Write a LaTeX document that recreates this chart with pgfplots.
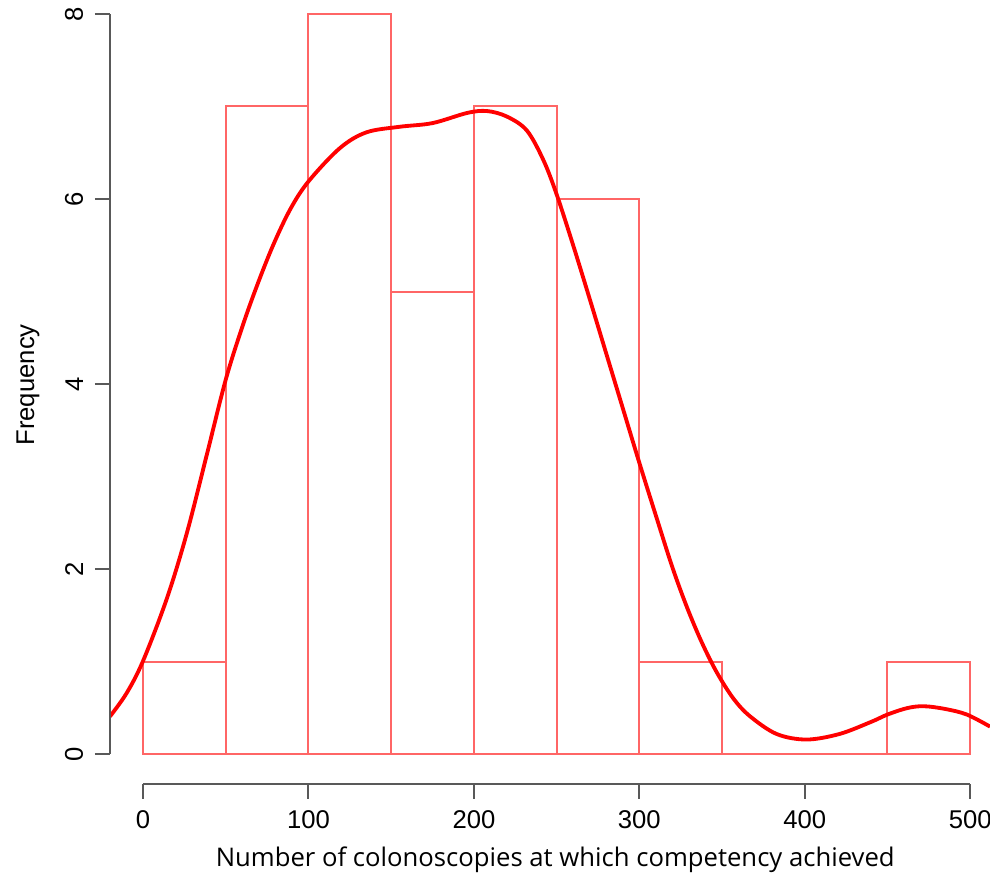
\documentclass[border=0pt]{standalone}
\usepackage{fontspec}
\setmainfont{Liberation Sans}
\newfontfamily\labelfont{Open Sans}
\usepackage{pgfplots}
\pgfplotsset{compat=1.18}

% counts per 50-wide bin, last row repeats the final count for ybar interval
\pgfplotstableread{
x   n
0   1
50  7
100 8
150 5
200 7
250 6
300 1
350 0
400 0
450 1
500 1
}\bins

% density curve, scaled to counts
\pgfplotstableread{
x    d
-20  0.41
-10  0.66
0    1.01
14.5 1.69
26.6 2.40
38.7 3.25
50   4.05
60   4.62
69   5.07
78.6 5.50
89   5.89
100  6.19
119  6.55
135  6.72
155  6.78
175  6.82
196  6.93
208  6.95
220  6.89
232  6.74
242  6.42
250  6.05
260  5.50
270  4.92
280  4.33
290  3.74
300  3.15
310  2.58
320  2.02
329  1.58
338  1.20
347  0.88
357  0.60
367  0.41
383  0.22
401  0.16
421  0.22
440  0.35
450  0.43
462  0.50
472  0.52
485  0.49
498  0.43
512  0.30
}\dens

\begin{document}
\begin{tikzpicture}
\begin{axis}[
    scale only axis,
    width=264pt, height=235.2pt,
    xmin=-20, xmax=512, ymin=-0.32, ymax=8.15,
    axis line style={draw=none},
    clip mode=individual,
    tick align=outside,
    xtick pos=bottom, ytick pos=left,
    major tick length=4.5pt,
    tick style={black!65, line width=0.6pt},
    xtick={0,100,...,500}, ytick={0,2,...,8},
    font=\fontsize{7.7}{9}\selectfont,
    /pgf/number format/assume math mode=true,
    yticklabel style={rotate=90, anchor=south},
    xlabel={\labelfont Number of colonoscopies at which competency achieved},
    ylabel={Frequency},
    xlabel style={at={(axis description cs:0.506,0)}, anchor=center, yshift=-22.8pt},
    ylabel style={at={(axis description cs:0,0.509)}, anchor=center, yshift=24.6pt},
]
\addplot[ybar interval, draw=red, draw opacity=0.6, line width=0.6pt, fill=none] table[x=x, y=n] {\bins};
\addplot[red, line width=1.15pt, smooth, tension=0.55] table[x=x, y=d] {\dens};
\draw[black!65, line width=0.6pt] (axis cs:-20,0) -- (axis cs:-20,8);
\draw[black!65, line width=0.6pt] (axis cs:0,-0.32) -- (axis cs:500,-0.32);
\end{axis}
\pgfresetboundingbox
\path[use as bounding box] ([xshift=-33pt,yshift=-27.9pt]current axis.south west) rectangle (current axis.north east);
\end{tikzpicture}
\end{document}
